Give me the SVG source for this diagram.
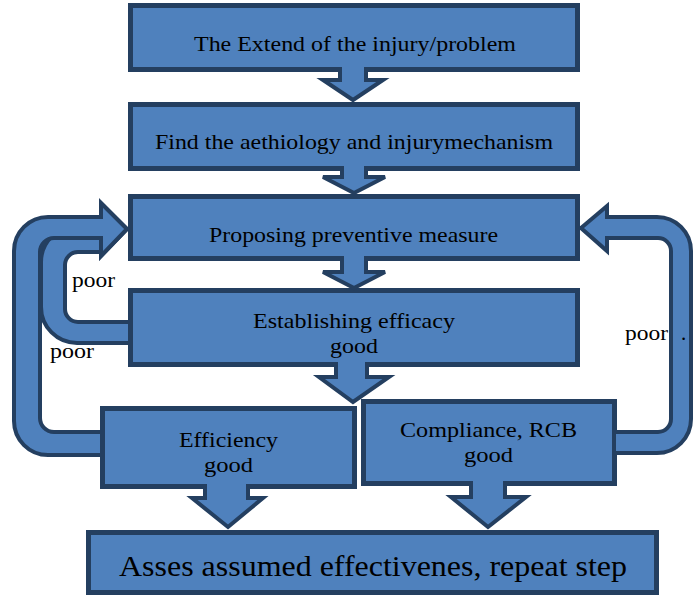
<svg xmlns="http://www.w3.org/2000/svg" width="693" height="596" viewBox="0 0 693 596">
<style>
.box{fill:#4f81bd;stroke:#243f60;stroke-width:5}
.con{fill:#4f81bd;stroke:#243f60;stroke-width:4;stroke-linejoin:miter}
.t{font-family:"Liberation Serif","Times New Roman",serif;font-size:21px;fill:#000;text-anchor:start}
.big{font-size:29px}
</style>
<rect width="693" height="596" fill="#fff"/>
<g id="n1"><rect class="box" x="130.5" y="5.5" width="447" height="64"/><text class="t" x="194" y="51" textLength="322" lengthAdjust="spacingAndGlyphs">The Extend of the injury/problem</text></g>
<g id="n2"><rect class="box" x="130.5" y="104.5" width="447" height="64"/><text class="t" x="155" y="149" textLength="398" lengthAdjust="spacingAndGlyphs">Find the aethiology and injurymechanism</text></g>
<g id="n3"><rect class="box" x="130.5" y="196.5" width="447" height="62"/><text class="t" x="209" y="242" textLength="289" lengthAdjust="spacingAndGlyphs">Proposing preventive measure</text></g>
<g id="n4"><rect class="box" x="130.5" y="290.5" width="447" height="74"/><text class="t" x="253" y="328" textLength="202" lengthAdjust="spacingAndGlyphs">Establishing efficacy</text><text class="t" x="330" y="353" textLength="48" lengthAdjust="spacingAndGlyphs">good</text></g>
<g id="n5"><rect class="box" x="102.5" y="408.5" width="252" height="78"/><text class="t" x="179" y="447" textLength="99" lengthAdjust="spacingAndGlyphs">Efficiency</text><text class="t" x="204" y="472" textLength="49" lengthAdjust="spacingAndGlyphs">good</text></g>
<g id="n6"><rect class="box" x="363.5" y="401.5" width="251" height="82"/><text class="t" x="400" y="437" textLength="177" lengthAdjust="spacingAndGlyphs">Compliance, RCB</text><text class="t" x="464" y="462" textLength="49" lengthAdjust="spacingAndGlyphs">good</text></g>
<g id="n7"><rect class="box" x="88.5" y="532.5" width="568" height="60"/><text class="t big" x="119" y="576" textLength="508" lengthAdjust="spacingAndGlyphs">Asses assumed effectivenes, repeat step</text></g>
<g id="connectors">
<path class="con" d="M340 67 L340 80 L323 80 L353 100 L383 80 L366 80 L366 67"/>
<path class="con" d="M342 166 L342 177 L323 177 L354 193 L385 177 L366 177 L366 166"/>
<path class="con" d="M342 256 L342 272 L323 272 L354 288 L385 272 L366 272 L366 256"/>
<path class="con" d="M336 362 L336 377 L319 377 L353 402 L389 377 L367 377 L367 362"/>
<path class="con" d="M205 484 L205 498 L192 498 L228 527 L263 498 L248 498 L248 484"/>
<path class="con" d="M471 481 L471 497 L451 497 L488 527 L526 497 L505 497 L505 481"/>
<path class="con" d="M128 322 L78 322 A13 13 0 0 1 65 309 L65 265 A13 13 0 0 1 78 252 L101 252 L101 256 L127 229 L101 203 L101 226 L77 226 A36 36 0 0 0 41 262 L41 307 A36 36 0 0 0 77 343 L128 343"/>
<path class="con" d="M100 432 L54 432 A14 14 0 0 1 40 418 L40 252 A14 14 0 0 1 54 238 L101 238 L101 256 L127 229 L101 203 L101 217 L48 217 A34 34 0 0 0 14 251 L14 421 A34 34 0 0 0 48 455 L100 455"/>
<path class="con" d="M616 432 L658 432 A13 13 0 0 0 671 419 L671 251 A13 13 0 0 0 658 238 L607 238 L607 251 L581 228 L607 206 L607 217 L657 217 A34 34 0 0 1 691 251 L691 419 A34 34 0 0 1 657 453 L616 453"/>
<text class="t" x="72" y="287" textLength="43" lengthAdjust="spacingAndGlyphs">poor</text>
<text class="t" x="50" y="358" textLength="44" lengthAdjust="spacingAndGlyphs">poor</text>
<text class="t" x="625" y="340" textLength="43" lengthAdjust="spacingAndGlyphs">poor</text>
<text class="t" x="681" y="340">.</text>
</g>
</svg>
